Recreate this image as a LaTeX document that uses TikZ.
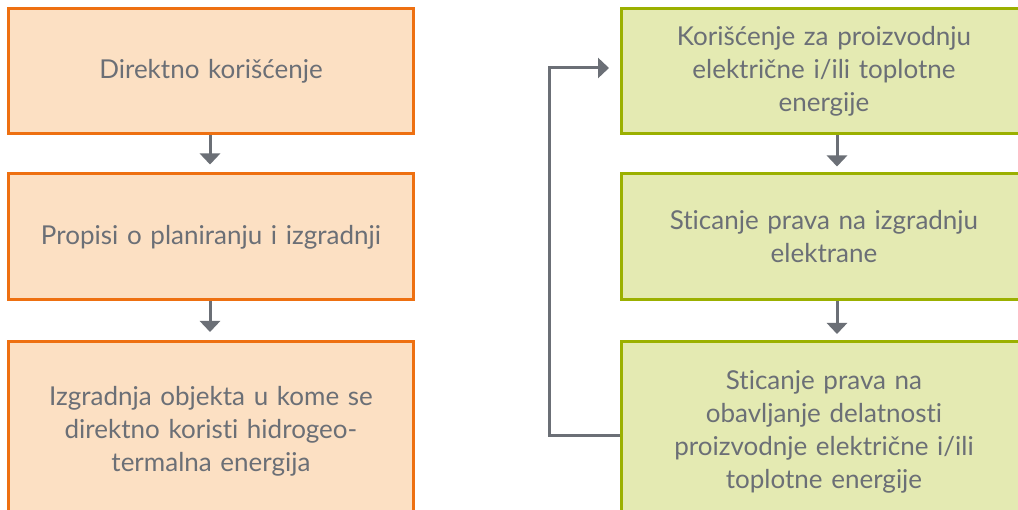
\documentclass[tikz,border=0pt]{standalone}
\usepackage{fontspec}
\setmainfont{Lato}[Ligatures={NoCommon}]
\usetikzlibrary{arrows.meta}
\definecolor{obord}{HTML}{EE7011}
\definecolor{ofill}{HTML}{FCE0C3}
\definecolor{gbord}{HTML}{9BB000}
\definecolor{gfill}{HTML}{E4EAB2}
\definecolor{tgray}{HTML}{6B6F76}
\tikzset{
  box/.style={rectangle, line width=3pt, minimum width=405pt, text width=390pt,
    align=center, text=tgray, inner sep=0pt,
    font=\fontsize{26}{33}\selectfont},
  obox/.style={box, draw=obord, fill=ofill},
  gbox/.style={box, draw=gbord, fill=gfill},
  conn/.style={draw=tgray, line width=3pt, -{Triangle[width=20pt,length=11pt]}},
}
\begin{document}
\begin{tikzpicture}[x=1pt,y=-1pt]
\useasboundingbox (0,0) rectangle (1018,510);
\clip (0,0) rectangle (1018,510);
\fill[white] (0,0) rectangle (1018,510);
\node[obox, minimum height=125.5pt] (l1) at (211,71.25) {Direktno korišćenje};
\node[obox, minimum height=126pt] (l2) at (211,237) {Propisi o planiranju i izgradnji};
\node[obox, minimum height=180pt] (l3) at (211,431.5) {Izgradnja objekta u kome se\\direktno koristi hidrogeo-\\termalna energija};
\node[gbox, minimum height=125.5pt] (r1) at (824,71.25) {Korišćenje za proizvodnju\\električne i/ili toplotne\\energije};
\node[gbox, minimum height=126pt] (r2) at (824,237) {Sticanje prava na izgradnju\\elektrane};
\node[gbox, minimum height=180pt] (r3) at (824,431.5) {Sticanje prava na\\obavljanje delatnosti\\proizvodnje električne i/ili\\toplotne energije};
\draw[conn, shorten >=8pt] ([xshift=-1pt]l1.south) -- ([xshift=-1pt]l2.north);
\draw[conn, shorten >=8pt] ([xshift=-1pt]l2.south) -- ([xshift=-1pt]l3.north);
\draw[conn, shorten >=6pt] ([xshift=13pt]r1.south) -- ([xshift=13pt]r2.north);
\draw[conn, shorten >=6pt] ([xshift=13pt]r2.south) -- ([xshift=13pt]r3.north);
\coordinate (lpa) at (549,436);
\coordinate (lpb) at (549,68);
\draw[conn, shorten >=11pt] (r3.west |- lpa) -- (lpa) -- (lpb) -- (r1.west |- lpb);
\end{tikzpicture}
\end{document}
